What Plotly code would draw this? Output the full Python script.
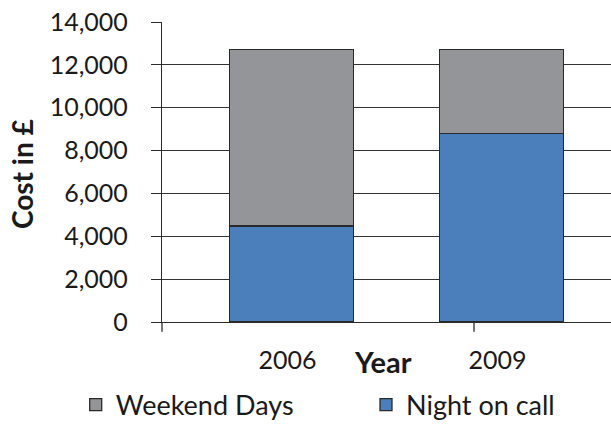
import plotly.graph_objects as go

years = ["2006", "2009"]
night_on_call = [4480, 8800]
weekend_days = [8240, 3920]
y_ticks = [0, 2000, 4000, 6000, 8000, 10000, 12000, 14000]
y_tick_labels = ["0", "2,000", "4,000", "6,000", "8,000", "10,000", "12,000", "14,000"]

FONT = "Lato"
DARK = "#2a2a2a"
TXT = "#1a1a1a"

W, H = 611, 426
L, R, T, B = 162, 0, 22, 104
PW, PH = W - L - R, H - T - B

fig = go.Figure()
fig.add_trace(go.Bar(x=years, y=night_on_call, name="Night on call", legend="legend2",
                     marker=dict(color="#4a7fbc", line=dict(color=DARK, width=1.3)),
                     width=0.59))
fig.add_trace(go.Bar(x=years, y=weekend_days, name="Weekend Days", legend="legend",
                     marker=dict(color="#949598", line=dict(color=DARK, width=1.3)),
                     width=0.59))

leg_common = dict(orientation="h", xref="container", yref="container",
                  xanchor="left", y=1 - 405 / H, yanchor="middle",
                  font=dict(family=FONT, size=27, color=TXT), bgcolor="rgba(0,0,0,0)")

fig.update_layout(
    width=W, height=H,
    margin=dict(l=L, r=R, t=T, b=B, autoexpand=False),
    barmode="stack",
    plot_bgcolor="white", paper_bgcolor="white",
    font=dict(family=FONT, size=25, color=TXT),
    showlegend=True,
    legend=dict(x=75.7 / W, **leg_common),
    legend2=dict(x=366 / W, **leg_common),
    xaxis=dict(type="category", range=[-0.617, 1.521], showline=True, linecolor=DARK, linewidth=1.3,
               ticks="", ticklabelstandoff=16, ticklabelshift=-4, showgrid=False, automargin=False,
               tickfont=dict(family=FONT, size=25, color=TXT)),
    yaxis=dict(range=[0, 14000], tickvals=y_ticks, ticktext=y_tick_labels,
               showline=True, linecolor=DARK, linewidth=1.3,
               ticks="outside", ticklen=10, tickcolor=DARK, ticklabelstandoff=18,
               showgrid=True, gridcolor="#333333", gridwidth=1, zeroline=False, automargin=False,
               tickfont=dict(family=FONT, size=25, color=TXT)),
    annotations=[
        dict(text="<b>Year</b>", xref="paper", yref="paper", x=(383 - L) / PW, y=-(361.7 - 322) / PH,
             xanchor="center", yanchor="middle", showarrow=False,
             font=dict(family=FONT, size=29, color=TXT)),
        dict(text="<b>Cost in £</b>", xref="paper", yref="paper", x=(22 - L) / PW, y=(322 - 174) / PH,
             xanchor="center", yanchor="middle", showarrow=False, textangle=-90,
             font=dict(family=FONT, size=28, color=TXT)),
    ],
    shapes=[
        dict(type="line", xref="paper", yref="paper", x0=0, x1=0, y0=0, y1=-9.7 / PH,
             line=dict(color=DARK, width=1.3)),
        dict(type="line", xref="paper", yref="paper", x0=(474 - L) / PW, x1=(474 - L) / PW,
             y0=0, y1=-9.7 / PH, line=dict(color=DARK, width=1.3)),
    ],
)

fig.write_html("out.html", config={"displayModeBar": False},
               post_script="document.body.style.margin='0';document.body.style.overflow='hidden';")
